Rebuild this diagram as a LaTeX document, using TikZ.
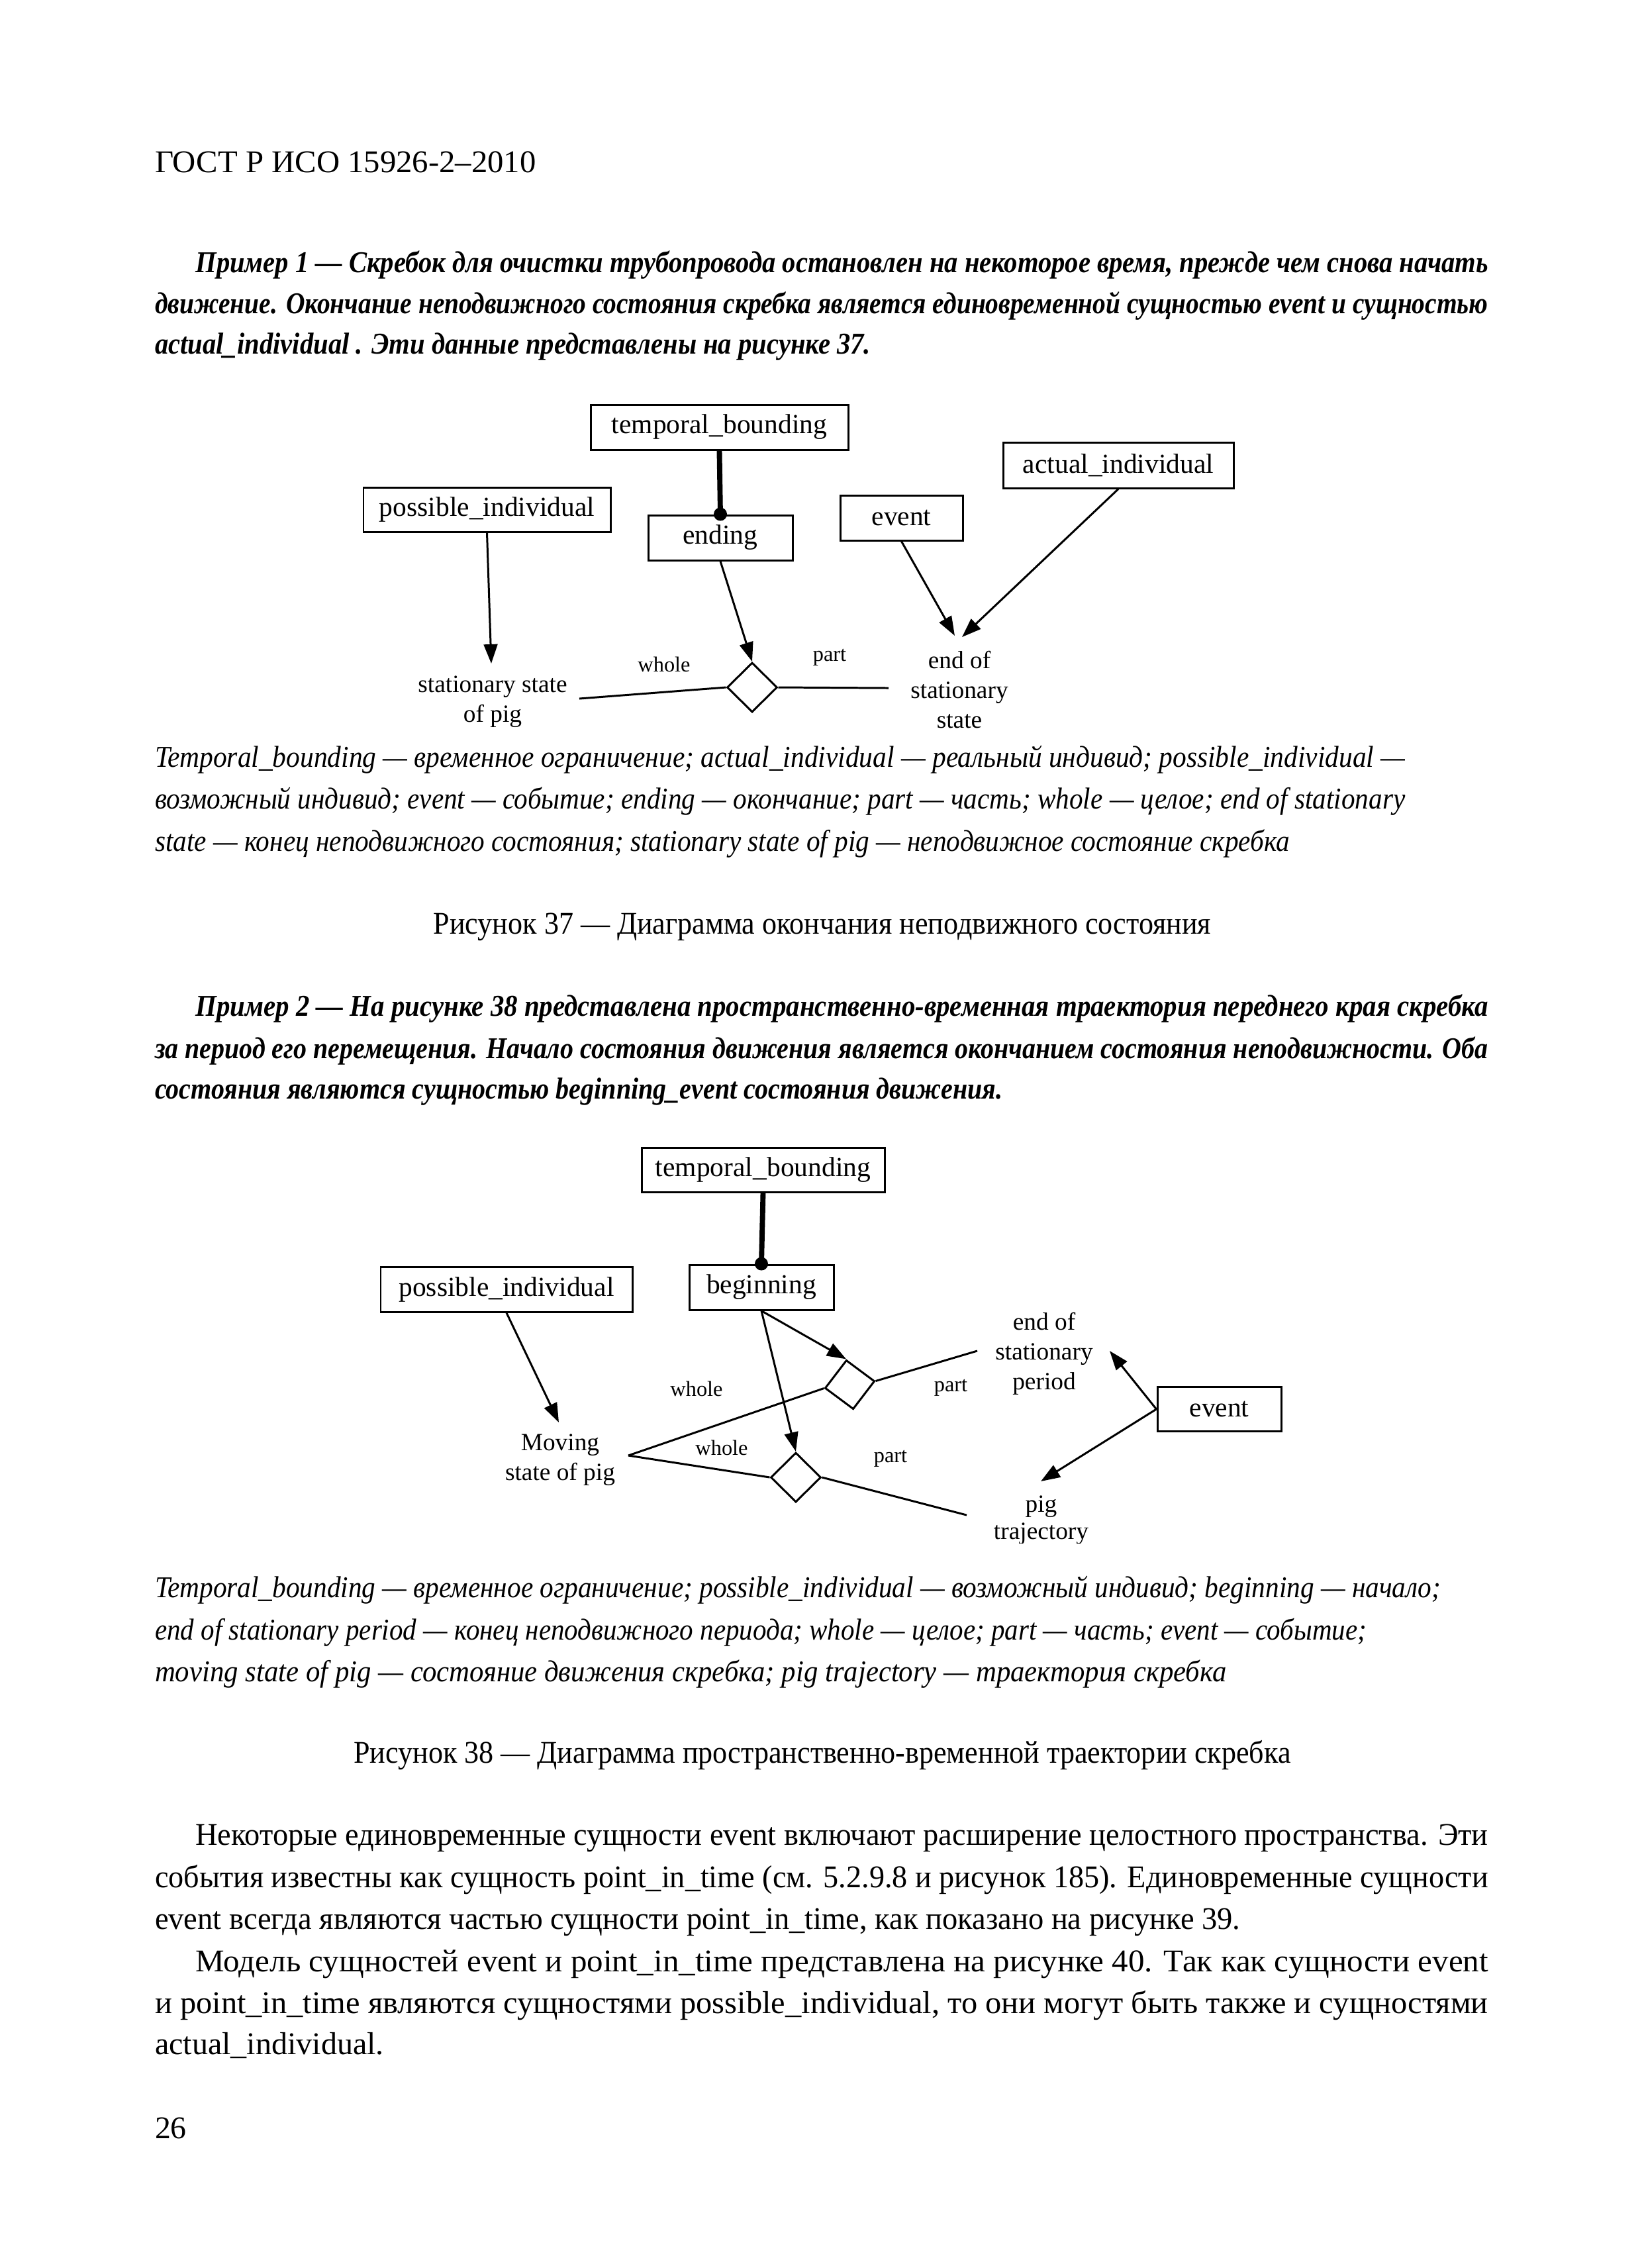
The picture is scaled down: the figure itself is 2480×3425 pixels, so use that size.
\documentclass[tikz,border=0pt]{standalone}
\usepackage{fontspec}
\usepackage{graphicx}
\setmainfont{Liberation Serif}
\usetikzlibrary{arrows.meta,shapes.geometric}
\newcommand\pxu{0.0084677cm}
\newlength\fitlen
\newcommand\fitline[2]{\settowidth\fitlen{#2}\pgfmathsetmacro\fitsx{#1/\fitlen}\scalebox{\fitsx}[1]{#2}}
\newcommand\stk[1]{\vtop{\halign{\hfil##\hfil\cr#1\crcr}}}
\begin{document}
\begin{tikzpicture}[x=0.0084677cm,y=-0.0084677cm,
  txt/.style={inner sep=0,outer sep=0,anchor=base west},
  body/.style={txt,font=\fontsize{11.5}{13}\selectfont},
  exm/.style={txt,font=\fontsize{11}{13}\selectfont\bfseries\itshape},
  capt/.style={txt,font=\fontsize{11}{13}\selectfont\itshape},
  ttl/.style={inner sep=0,outer sep=0,anchor=base,font=\fontsize{11.5}{13}\selectfont},
  box/.style={draw,line width=0.72pt,inner sep=0,font=\fontsize{10}{12}\selectfont},
  sz/.style 2 args={minimum width=#1*\pxu,minimum height=#2*\pxu},
  lbl/.style={inner sep=0,anchor=base,font=\fontsize{9}{10.84}\selectfont},
  rl/.style={inner sep=0,font=\fontsize{7.8}{9}\selectfont},
  con/.style={line width=0.72pt},
  arr/.style={con,-{Triangle[length=7pt,width=5pt]}},
  bond/.style={line width=1.9pt},
  dm/.style={diamond,draw,line width=0.72pt,inner sep=0,minimum width=76*\pxu,minimum height=75*\pxu}]
\useasboundingbox (0,0) rectangle (2480,3425);
\fill[white] (0,0) rectangle (2480,3425);

% header
\node[body] (hdr) at (234,260) {\fitline{138.7}{ГОСТ Р ИСО 15926-2–2010}};

% example 1
\node[exm] (e1a) at (295.5,411) {\fitline{470.4}{Пример 1 — Скребок для очистки трубопровода остановлен на некоторое время, прежде чем снова начать}};
\node[exm] (e1b) at (234,473) {\fitline{485.2}{движение. Окончание неподвижного состояния скребка является единовременной сущностью event и сущностью}};
\node[exm] (e1c) at (234,534) {\fitline{260.5}{actual\_individual . Эти данные представлены на рисунке 37.}};

% diagram 1
\node[box,sz={389}{68}] (tb1) at (1086.5,645) {temporal\_bounding};
\node[box,sz={218}{68}] (end1) at (1088,812) {ending};
\node[box,sz={373}{67}] (pi1) at (735.5,769.5) {possible\_individual};
\node[box,sz={185}{68}] (ev1) at (1361.5,782) {event};
\node[box,sz={348}{69}] (ai1) at (1689,702.5) {actual\_individual};
\node[dm] (d1) at (1136,1038) {};
\node[lbl] (ssp) at (744,1045) {\stk{stationary state\cr of pig}};
\node[lbl] (ess) at (1449,1009) {\stk{end of\cr stationary\cr state}};
\node[rl] (wh1) at (1003,1003) {whole};
\node[rl] (pt1) at (1253,993) {part};
\coordinate (c1) at (742,1002);
\coordinate (c2) at (875,1055);
\coordinate (c3) at (1342,1039);
\coordinate (c4) at (1442,960);
\coordinate (c5) at (1453,962);
\draw[bond] (tb1.south) -- (end1.north);
\fill (end1.north) circle[radius=10*\pxu];
\draw[arr] (pi1.south) -- (c1);
\draw[arr] (end1.south) -- (d1.north);
\draw[con] (c2) -- (d1.west);
\draw[con] (d1.east) -- (c3);
\draw[arr] (ev1.south) -- (c4);
\draw[arr] (ai1.south) -- (c5);

% caption 37
\node[capt] (k1a) at (234,1158) {\fitline{455}{Temporal\_bounding — временное ограничение; actual\_individual — реальный индивид; possible\_individual —}};
\node[capt] (k1b) at (234,1221) {\fitline{455}{возможный индивид; event — событие; ending — окончание; part — часть; whole — целое; end of stationary}};
\node[capt] (k1c) at (234,1285) {\fitline{413}{state — конец неподвижного состояния; stationary state of pig — неподвижное состояние скребка}};
\node[ttl] (t37) at (1242,1410) {\fitline{283}{Рисунок 37 — Диаграмма окончания неподвижного состояния}};

% example 2
\node[exm] (e2a) at (295.5,1534) {\fitline{470.4}{Пример 2 — На рисунке 38 представлена пространственно-временная траектория переднего края скребка}};
\node[exm] (e2b) at (234,1598) {\fitline{485.2}{за период его перемещения. Начало состояния движения является окончанием состояния неподвижности. Оба}};
\node[exm] (e2c) at (234,1659) {\fitline{308.5}{состояния являются сущностью beginning\_event состояния движения.}};

% diagram 2
\node[box,sz={367}{67}] (tb2) at (1152.5,1766.5) {temporal\_bounding};
\node[box,sz={218}{68}] (beg2) at (1150,1944) {beginning};
\node[box,sz={380}{68}] (pi2) at (765,1947) {possible\_individual};
\node[box,sz={187}{67}] (ev2) at (1841.5,2128) {event};
\node[dm,rotate=8] (d2a) at (1283.5,2091) {};
\node[dm] (d2b) at (1202,2231) {};
\node[lbl] (msp) at (846,2190) {\stk{Moving\cr state of pig}};
\node[lbl] (esp) at (1577,2008) {\stk{end of\cr stationary\cr period}};
\begin{scope}
\clip (1400,2230) rectangle (1760,2330);
\node[lbl,font=\fontsize{9}{9.9}\selectfont] (ptr) at (1572.5,2283) {\stk{pig\cr trajectory}};
\end{scope}
\node[rl] (wh2a) at (1052,2097) {whole};
\node[rl] (wh2b) at (1090,2186) {whole};
\node[rl] (pt2a) at (1436,2096) {part};
\node[rl] (pt2b) at (1345,2203) {part};
\coordinate (c6) at (949,2198);
\coordinate (c7) at (1476,2040);
\coordinate (c8) at (1460,2288);
\coordinate (c9) at (844,2148);
\coordinate (c10) at (1676,2040);
\coordinate (c11) at (1572,2237);
\draw[bond] (tb2.south) -- (beg2.north);
\fill (beg2.north) circle[radius=10*\pxu];
\draw[arr] (pi2.south) -- (c9);
\draw[arr] (beg2.south) -- (d2a.north);
\draw[arr] (beg2.south) -- (d2b.north);
\draw[con] (c6) -- (d2a.west);
\draw[con] (c6) -- (d2b.west);
\draw[con] (d2a.east) -- (c7);
\draw[con] (d2b.east) -- (c8);
\draw[arr] (ev2.west) -- (c10);
\draw[arr] (ev2.west) -- (c11);

% caption 38
\node[capt] (k2a) at (234,2412) {\fitline{468}{Temporal\_bounding — временное ограничение; possible\_individual — возможный индивид; beginning — начало;}};
\node[capt] (k2b) at (234,2476) {\fitline{441}{end of stationary period — конец неподвижного периода; whole — целое; part — часть; event — событие;}};
\node[capt] (k2c) at (234,2539) {\fitline{390}{moving state of pig — состояние движения скребка; pig trajectory — траектория скребка}};
\node[ttl] (t38) at (1242,2662) {\fitline{341}{Рисунок 38 — Диаграмма пространственно-временной траектории скребка}};

% body text
\node[body] (b1) at (295.5,2786) {\fitline{470.4}{Некоторые единовременные сущности event включают расширение целостного пространства. Эти}};
\node[body] (b2) at (234,2850) {\fitline{485.2}{события известны как сущность point\_in\_time (см. 5.2.9.8 и рисунок 185). Единовременные сущности}};
\node[body] (b3) at (234,2913) {\fitline{395}{event всегда являются частью сущности point\_in\_time, как показано на рисунке 39.}};
\node[body] (b4) at (295.5,2977) {\fitline{470.4}{Модель сущностей event и point\_in\_time представлена на рисунке 40. Так как сущности event}};
\node[body] (b5) at (234,3040) {\fitline{485.2}{и point\_in\_time являются сущностями possible\_individual, то они могут быть также и сущностями}};
\node[body] (b6) at (234,3102) {\fitline{83.3}{actual\_individual.}};
\node[body] (pg) at (234,3229) {26};
\end{tikzpicture}
\end{document}
